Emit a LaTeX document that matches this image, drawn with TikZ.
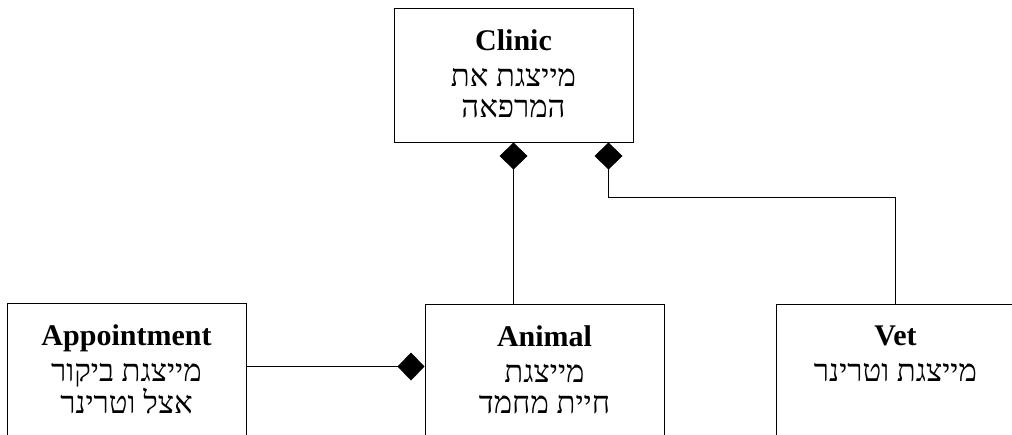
\documentclass[tikz,border=0pt]{standalone}
\usepackage{fontspec}
\setmainfont{Liberation Serif}
\newfontfamily\hebfont[Script=Hebrew]{Liberation Serif}
\TeXXeTstate=1
\usetikzlibrary{arrows.meta, positioning}
\newcommand{\heb}[1]{{\hebfont\fontsize{31}{31}\selectfont\beginR #1\endR}}
\tikzset{
    classbox/.style={rectangle, draw=black, line width=1pt, minimum width=239pt, inner sep=0pt},
    classtxt/.style={align=center, anchor=north, inner sep=0pt, font=\fontsize{30}{31}\selectfont},
    agg/.style={{Diamond[length=27pt, width=28pt]}-, line width=1pt, black}
}
\begin{document}
\begin{tikzpicture}[x=1pt, y=-1pt]
    \useasboundingbox (0,0) rectangle (1012,434);
    \clip (0,0) rectangle (1012,434);

    \node[classbox, minimum height=134pt] (clinic) at (513.5,75) {};
    \node[classbox, minimum height=160pt] (appt) at (126.5,383) {};
    \node[classbox, minimum height=160pt] (animal) at (544.5,384) {};
    \node[classbox, minimum height=160pt] (vet) at (895.5,384) {};

    \node[classtxt] (clinicTxt) at ([yshift=-22pt]clinic.north) {\textbf{Clinic}\\[5pt] \heb{מייצגת את}\\ \heb{המרפאה}};
    \node[classtxt] (apptTxt) at ([yshift=-22pt]appt.north) {\textbf{Appointment}\\[5pt] \heb{מייצגת ביקור}\\ \heb{אצל וטרינר}};
    \node[classtxt] (animalTxt) at ([yshift=-22pt]animal.north) {\textbf{Animal}\\[5pt] \heb{מייצגת}\\ \heb{חיית מחמד}};
    \node[classtxt] (vetTxt) at ([yshift=-22pt]vet.north) {\textbf{Vet}\\[5pt] \heb{מייצגת וטרינר}};

    \draw[agg] (clinic.south) -- (clinic.south |- animal.north);
    \draw[agg] ([xshift=95pt]clinic.south) -- ++(0,55) -| (vet.north);
    \draw[agg] ([yshift=-63pt]animal.north west) -- ([yshift=-64pt]appt.north east);
\end{tikzpicture}
\end{document}
